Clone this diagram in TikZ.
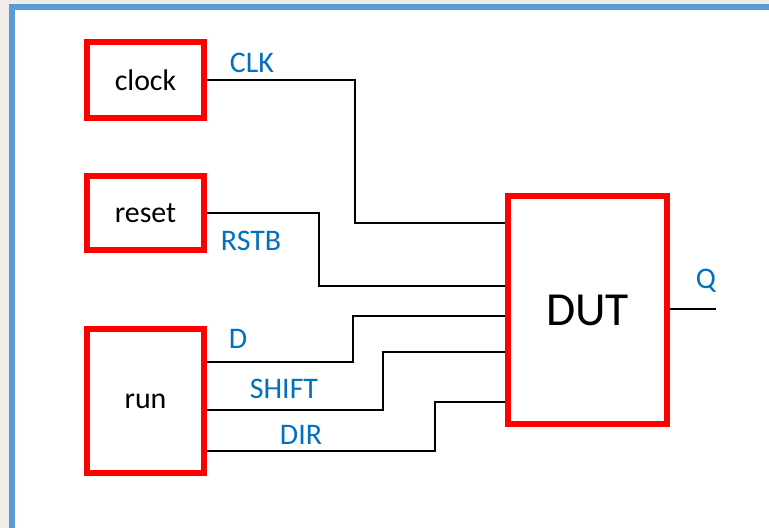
\documentclass[tikz,border=0pt]{standalone}
\usepackage{fontspec}
\setmainfont{Carlito}
\usepackage{tikz}
\usetikzlibrary{positioning, calc}
\definecolor{slideblue}{HTML}{5B9BD5}
\definecolor{labelblue}{HTML}{0070C0}
\definecolor{paper}{RGB}{240,236,234}

\begin{document}
\begin{tikzpicture}[
    x=0.02cm, y=-0.02cm,
    block/.style={rectangle, draw=red, line width=0.12cm, fill=white, minimum width=2.34cm, font=\fontsize{17}{20}\selectfont},
    wire/.style={draw=black, line width=0.6pt},
    sig/.style={text=labelblue, font=\fontsize{17}{20}\selectfont}
]

    % Rahmen der Folie
    \clip (0,0) rectangle (769,528);
    \fill[paper] (0,0) rectangle (769,528);
    \draw[slideblue, line width=0.12cm, fill=white] (12,7) rectangle (820,580);

    % Bausteine links und der DUT rechts
    \node [block, minimum height=1.52cm] (clock) at (145.5,80) {clock};
    \node [block, minimum height=1.48cm] (reset) at (145.5,213) {reset};
    \node [block, minimum height=2.88cm] (run) at (145.5,401) {run};
    \node [block, minimum width=3.18cm, minimum height=4.56cm, font=\fontsize{27}{30}\selectfont] (dut) at (587.5,310) {DUT};

    % Leitungen
    \draw [wire] (clock.east) -| (355,223) -- (dut.west |- 0,223);
    \draw [wire] (reset.east) -| (319,286) -- (dut.west |- 0,286);
    \draw [wire] (run.east |- 0,362) -| (353,316) -- (dut.west |- 0,316);
    \draw [wire] (run.east |- 0,410) -| (383,352) -- (dut.west |- 0,352);
    \draw [wire] (run.east |- 0,451) -| (435,402) -- (dut.west |- 0,402);
    \coordinate (qend) at (716,309);
    \draw [wire] (dut.east |- qend) -- (qend);

    % Signalnamen
    \node [sig] (clk) at (252,63) {CLK};
    \node [sig] (rstb) at (251,241) {RSTB};
    \node [sig] (d) at (238,339) {D};
    \node [sig] (shift) at (284,389) {SHIFT};
    \node [sig] (dir) at (301,435) {DIR};
    \node [sig] (q) at (706,281) {Q};

\end{tikzpicture}
\end{document}
